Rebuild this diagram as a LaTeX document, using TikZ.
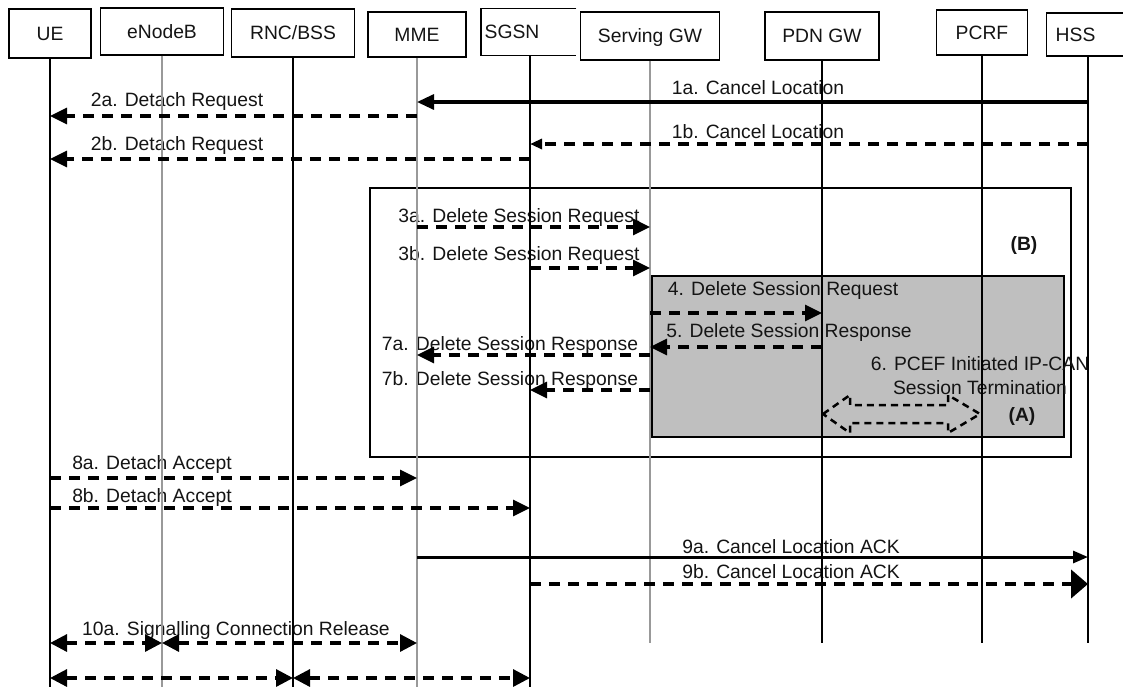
\documentclass[tikz,border=0pt]{standalone}
\usepackage{fontspec}
\setmainfont{Liberation Sans}
\usetikzlibrary{arrows.meta}
\begin{document}
\begin{tikzpicture}[x=1pt,y=-1pt,
  every node/.style={font=\fontsize{19.3}{22}\selectfont, inner sep=0pt, text=black!92},
  pbox/.style={draw=black, line width=1.4pt, text height=13.8pt, text depth=0pt},
  lbl/.style={anchor=base},
  lifeb/.style={line width=1.3pt, black},
  lifeg/.style={line width=1.5pt, black!40},
  frame/.style={draw=black, line width=1.4pt},
  dmsg/.style={line width=3.2pt, dash pattern=on 11pt off 8pt, -{Triangle[length=17pt,width=16pt]}},
  smsg/.style={line width=3.2pt, -{Triangle[length=17pt,width=15pt]}},
  dbl/.style={line width=3.2pt, dash pattern=on 11pt off 8pt, {Triangle[length=17pt,width=17pt]}-{Triangle[length=17pt,width=17pt]}}
]
\useasboundingbox (0,0) rectangle (1123,686);

% frames
\draw[frame] (370,188) rectangle (1071,457);
\filldraw[frame, fill=black!25] (652,276) rectangle (1064,437);

% participants
\node[pbox, minimum width=82pt, minimum height=49pt] (ue) at (50,33.5) {UE};
\node[pbox, minimum width=123pt, minimum height=47pt] (enb) at (162,31.5) {eNodeB};
\node[pbox, minimum width=123pt, minimum height=48pt] (rnc) at (293,33) {RNC/BSS};
\node[pbox, minimum width=98pt, minimum height=45pt] (mme) at (417,34.5) {MME};
\node[pbox, draw=none, anchor=west, minimum height=46pt, text width=88pt, inner xsep=3pt, align=left] (sgsn) at (481,32) {SGSN};
\draw[line width=1.4pt] (sgsn.north east) -- (sgsn.north west) -- (sgsn.south west) -- (sgsn.south east);
\node[pbox, minimum width=139pt, minimum height=48pt] (sgw) at (650,36) {Serving GW};
\node[pbox, minimum width=114pt, minimum height=48pt] (pgw) at (822,36) {PDN GW};
\node[pbox, minimum width=91pt, minimum height=45pt] (pcrf) at (982,32.5) {PCRF};
\node[pbox, anchor=west, minimum height=43pt, text width=100pt, inner xsep=9pt, align=left] (hss) at (1046,34.5) {HSS};
\coordinate (sgsnL) at (530,55);
\coordinate (hssL) at (1088,56);

% labels
\node[lbl] (l1a) at (758,94) {1a. Cancel Location};
\node[lbl] (l2a) at (177,106) {2a. Detach Request};
\node[lbl] (l1b) at (758,138) {1b. Cancel Location};
\node[lbl] (l2b) at (177,150) {2b. Detach Request};
\node[lbl] (l3a) at (519,222) {3a. Delete Session Request};
\node[lbl] (l3b) at (519,260) {3b. Delete Session Request};
\node[lbl] (l4) at (783,295) {4. Delete Session Request};
\node[lbl] (l5) at (789,337) {5. Delete Session Response};
\node[lbl] (l7a) at (510,350) {7a. Delete Session Response};
\node[lbl] (l7b) at (510,385) {7b. Delete Session Response};
\node[lbl] (l6) at (980,370) {6. PCEF Initiated IP-CAN};
\node[lbl] (l6b) at (980,394) {Session Termination};
\node[lbl, font=\fontsize{19.3}{22}\selectfont\bfseries] (lA) at (1022,421) {(A)};
\node[lbl, font=\fontsize{19.3}{22}\selectfont\bfseries] (lB) at (1024,250) {(B)};
\node[lbl] (l8a) at (152,469) {8a. Detach Accept};
\node[lbl] (l8b) at (152,502) {8b. Detach Accept};
\node[lbl] (l9a) at (791,553) {9a. Cancel Location ACK};
\node[lbl] (l9b) at (791,578) {9b. Cancel Location ACK};
\node[lbl] (l10a) at (236,635) {10a. Signalling Connection Release};

% lifelines
\draw[lifeb] (ue.south) -- (ue.south |- 0,690);
\draw[lifeg] (enb.south) -- (enb.south |- 0,690);
\draw[lifeb] (rnc.south) -- (rnc.south |- 0,690);
\draw[lifeg] (mme.south) -- (mme.south |- 0,690);
\draw[lifeb] (sgsnL) -- (sgsnL |- 0,690);
\draw[lifeg] (sgw.south) -- (sgw.south |- 0,643);
\draw[lifeb] (pgw.south) -- (pgw.south |- 0,643);
\draw[lifeb] (pcrf.south) -- (pcrf.south |- 0,643);
\draw[lifeb] (hssL) -- (hssL |- 0,643);

% messages
\draw[smsg] (hssL |- 0,102) -- (mme.south |- 0,102);
\draw[dmsg] (mme.south |- 0,116) -- (ue.south |- 0,116);
\draw[line width=3.2pt, dash pattern=on 11pt off 8pt, -{Triangle[length=12pt,width=10pt]}] (hssL |- 0,144) -- (sgsnL |- 0,144);
\draw[dmsg] (sgsnL |- 0,159) -- (ue.south |- 0,159);
\draw[dmsg] (mme.south |- 0,227) -- (sgw.south |- 0,227);
\draw[dmsg] (sgsnL |- 0,268) -- (sgw.south |- 0,268);
\draw[dmsg] (sgw.south |- 0,313) -- (pgw.south |- 0,313);
\draw[dmsg] (pgw.south |- 0,347) -- (sgw.south |- 0,347);
\draw[dmsg] (sgw.south |- 0,355) -- (mme.south |- 0,355);
\draw[dmsg] (sgw.south |- 0,390) -- (sgsnL |- 0,390);
\draw[line width=2.5pt, dash pattern=on 7pt off 5pt] (823,414) -- (850,395) -- (850,405) -- (948,405) -- (948,395) -- (980,414) -- (948,433) -- (948,423) -- (850,423) -- (850,433) -- cycle;
\draw[dmsg] (ue.south |- 0,478) -- (mme.south |- 0,478);
\draw[dmsg] (ue.south |- 0,508) -- (sgsnL |- 0,508);
\draw[line width=3pt, -{Triangle[length=15pt,width=12pt]}] (mme.south |- 0,557) -- (hssL |- 0,557);
\draw[line width=4.2pt, dash pattern=on 11pt off 8pt, -{Triangle[length=17pt,width=28pt]}] (sgsnL |- 0,584) -- (hssL |- 0,584);
\draw[dbl] (ue.south |- 0,643) -- (enb.south |- 0,643);
\draw[dbl] (enb.south |- 0,643) -- (mme.south |- 0,643);
\draw[dbl] (ue.south |- 0,678) -- (rnc.south |- 0,678);
\draw[dbl] (rnc.south |- 0,678) -- (sgsnL |- 0,678);
\end{tikzpicture}
\end{document}
